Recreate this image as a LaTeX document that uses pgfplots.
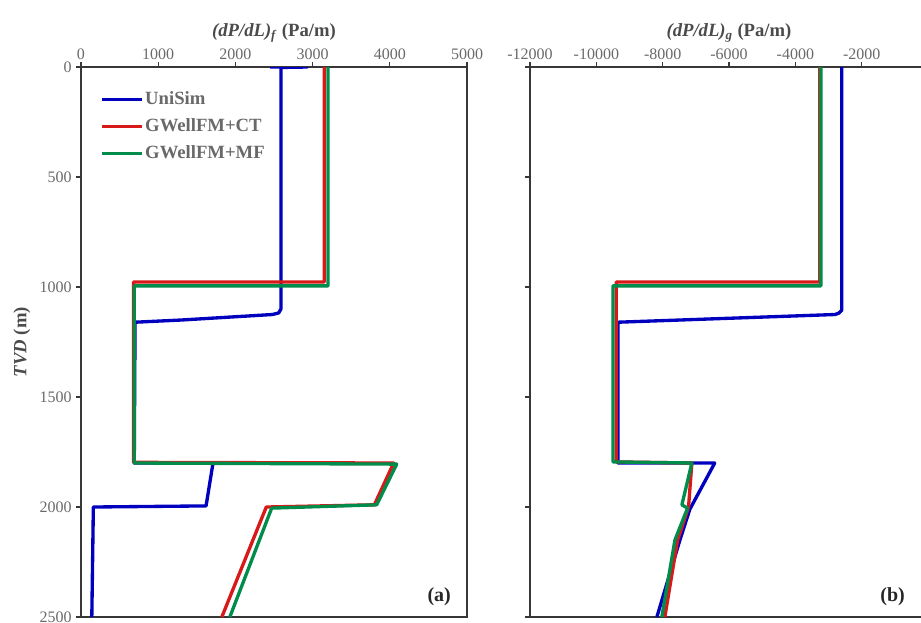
\documentclass[border=0pt]{standalone}
\usepackage{fontspec}
\setmainfont{Liberation Serif}
\usepackage{pgfplots}
\pgfplotsset{compat=1.18}
\definecolor{cblue}{RGB}{0,0,190}
\definecolor{cred}{RGB}{215,25,25}
\definecolor{cgreen}{RGB}{0,140,75}
\definecolor{tgray}{RGB}{105,105,105}
\definecolor{dgray}{RGB}{75,75,75}
\definecolor{agray}{RGB}{55,55,55}
\pgfplotsset{
  common/.style={
    scale only axis, height=412.5pt,
    y dir=reverse, ymin=0, ymax=2500,
    ytick={0,500,...,2500}, ytick pos=left,
    xtick pos=right, xticklabel pos=right,
    scaled x ticks=false, scaled y ticks=false,
    tick align=outside, major tick length=3.5pt,
    tick style={agray, line width=0.8pt},
    axis line style={agray, line width=1.1pt},
    ticklabel style={font=\fontsize{12}{14}\selectfont, text=tgray},
    /pgf/number format/assume math mode=true,
    /pgf/number format/1000 sep={},
    xticklabel style={inner sep=1.5pt},
    label style={font=\fontsize{14}{16}\selectfont\bfseries, text=dgray},
    every axis plot/.append style={line width=2.5pt, line join=round},
  }
}
\begin{document}
\begin{tikzpicture}
\useasboundingbox (0,0) rectangle (690.75pt,-466.5pt);
\clip (0,0) rectangle (690.75pt,-466.5pt);
\begin{axis}[common, name=a,
  at={(60.75pt,-50.25pt)}, anchor=north west, width=289.5pt,
  xmin=0, xmax=5000, xtick={0,1000,...,5000},
  xlabel={\textit{(dP/dL)}\textsubscript{\textit{f}} (Pa/m)},
  ylabel={\textit{TVD} (m)},
  legend style={draw=none, fill=none, at={(0.05,0.965)}, anchor=north west,
    font=\fontsize{14}{16}\selectfont\bfseries, text=tgray, row sep=5pt,
    inner xsep=0pt, nodes={inner xsep=1pt}},
  legend cell align=left,
  legend image code/.code={\draw[#1] (0pt,0pt) -- (30pt,0pt);},
]
\addplot[cblue] coordinates {(2450,0) (2930,0) (2590,2) (2590,1100) (2560,1118) (2480,1125) (1300,1150) (700,1160) (690,1800) (1710,1800) (1620,1995) (160,2000) (140,2500)};
\addplot[cred] coordinates {(3150,0) (3150,977) (680,977) (680,1797) (4050,1800) (3800,1990) (2400,2000) (1824,2500)};
\addplot[cgreen] coordinates {(3200,0) (3200,995) (690,995) (690,1800) (4090,1805) (3830,1990) (2470,2005) (1928,2500)};
\legend{UniSim, GWellFM+CT, GWellFM+MF}
\node[font=\fontsize{15}{17}\selectfont\bfseries, text=black!85] at (axis cs:4640,2409) {(a)};
\end{axis}
\begin{axis}[common, name=b,
  at={(397.5pt,-50.25pt)}, anchor=north west, width=298.5pt,
  xmin=-12000, xmax=0, xtick={-12000,-10000,...,0},
  yticklabels={},
  xlabel={\textit{(dP/dL)}\textsubscript{\textit{g}} (Pa/m)},
]
\addplot[cblue] coordinates {(-2600,0) (-2600,1105) (-2680,1118) (-2800,1125) (-9350,1160) (-9350,1800) (-6430,1800) (-7180,2010) (-7480,2150) (-8175,2500)};
\addplot[cred] coordinates {(-3260,0) (-3260,977) (-9400,977) (-9400,1795) (-7120,1800) (-7220,2000) (-7550,2150) (-7935,2500)};
\addplot[cgreen] coordinates {(-3230,0) (-3230,995) (-9500,995) (-9500,1795) (-7120,1800) (-7420,1990) (-7250,2005) (-7630,2150) (-8025,2500)};
\node[font=\fontsize{15}{17}\selectfont\bfseries, text=black!85] at (axis cs:-1066,2409) {(b)};
\end{axis}
\end{tikzpicture}
\end{document}
